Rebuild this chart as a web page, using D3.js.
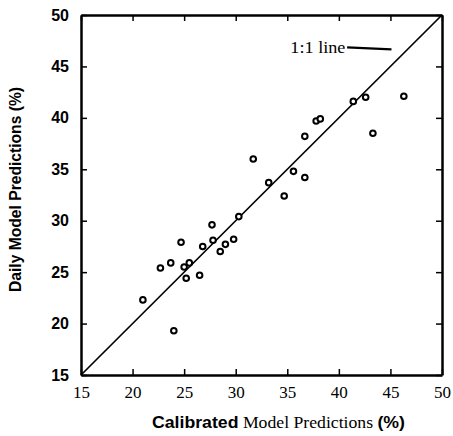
<!DOCTYPE html>
<html>
<head>
<meta charset="utf-8">
<script src="https://cdn.jsdelivr.net/npm/d3@7"></script>
<style>
  body { margin: 0; background: #fff; }
  .axis path, .axis line { stroke: #000; }
  .xaxis text { font-family: "Liberation Serif", serif; font-size: 17px; }
  .yaxis text { font-family: "Liberation Sans", sans-serif; font-weight: bold; font-size: 16px; }
</style>
</head>
<body>
<div id="chart"></div>
<script>
var width = 453, height = 436;
var margin = {top: 15, left: 81, right: 11, bottom: 61};

var calibrated = [21.0, 22.7, 23.7, 24.0, 24.7, 25.0, 25.5, 25.2, 26.5, 26.8, 27.7, 27.8, 28.5, 29.0,
  29.8, 30.3, 31.7, 33.2, 34.7, 35.6, 36.7, 36.7, 37.8, 38.2, 41.4, 42.6, 43.3, 46.3];
var daily = [22.3, 25.4, 25.9, 19.3, 27.9, 25.5, 25.9, 24.4, 24.7, 27.5, 29.6, 28.1, 27.0, 27.7,
  28.2, 30.4, 36.0, 33.7, 32.4, 34.8, 34.2, 38.2, 39.7, 39.9, 41.6, 42.0, 38.5, 42.1];
var ticks = [15, 20, 25, 30, 35, 40, 45, 50];

var svg = d3.select("#chart")
  .append("svg")
  .attr("width", width)
  .attr("height", height);

var xScale = d3.scaleLinear()
  .domain([15, 50])
  .range([margin.left, width - margin.right]);

var yScale = d3.scaleLinear()
  .domain([15, 50])
  .range([height - margin.bottom, margin.top]);

// inward ticks on all four sides
var xAxis = svg.append("g")
  .attr("class", "axis xaxis")
  .attr("transform", `translate(0,${height - margin.bottom})`)
  .call(d3.axisBottom(xScale).tickValues(ticks).tickSizeInner(-6).tickSizeOuter(0).tickPadding(11));

svg.append("g")
  .attr("class", "axis")
  .attr("transform", `translate(0,${margin.top})`)
  .call(d3.axisTop(xScale).tickValues(ticks).tickSizeInner(-6).tickSizeOuter(0).tickFormat(""));

var yAxis = svg.append("g")
  .attr("class", "axis yaxis")
  .attr("transform", `translate(${margin.left},0)`)
  .call(d3.axisLeft(yScale).tickValues(ticks).tickSizeInner(-6).tickSizeOuter(0).tickPadding(12));

svg.append("g")
  .attr("class", "axis")
  .attr("transform", `translate(${width - margin.right},0)`)
  .call(d3.axisRight(yScale).tickValues(ticks).tickSizeInner(-6).tickSizeOuter(0).tickFormat(""));

svg.selectAll(".axis path").attr("stroke-width", 2.5);
svg.selectAll(".axis line").attr("stroke-width", 1.5);

// 1:1 line
svg.append("line")
  .attr("x1", xScale(15)).attr("y1", yScale(15))
  .attr("x2", xScale(50)).attr("y2", yScale(50))
  .attr("stroke", "#000")
  .attr("stroke-width", 1.7);

svg.append("text")
  .attr("x", xScale(35.3))
  .attr("y", yScale(46.35))
  .attr("font-family", "Liberation Serif, serif")
  .attr("font-size", 17)
  .attr("textLength", 55)
  .attr("lengthAdjust", "spacingAndGlyphs")
  .text("1:1 line");

svg.append("line")
  .attr("x1", xScale(40.8)).attr("y1", yScale(46.85))
  .attr("x2", xScale(45.1)).attr("y2", yScale(46.65))
  .attr("stroke", "#000")
  .attr("stroke-width", 2.2);

var points = calibrated.map(function(d, i) { return {x: d, y: daily[i]}; });

svg.selectAll(".pt")
  .data(points)
  .enter()
  .append("circle")
    .attr("class", "pt")
    .attr("cx", function(d) { return xScale(d.x); })
    .attr("cy", function(d) { return yScale(d.y); })
    .attr("r", 2.8)
    .attr("fill", "#fff")
    .attr("stroke", "#000")
    .attr("stroke-width", 2);

var xLabel = svg.append("text")
  .attr("x", 152)
  .attr("y", 428)
  .attr("font-size", 17)
  .attr("textLength", 253)
  .attr("lengthAdjust", "spacingAndGlyphs");
xLabel.append("tspan")
  .attr("font-family", "Liberation Sans, sans-serif")
  .attr("font-weight", "bold")
  .text("Calibrated");
xLabel.append("tspan")
  .attr("font-family", "Liberation Serif, serif")
  .text(" Model Predictions ");
xLabel.append("tspan")
  .attr("font-family", "Liberation Sans, sans-serif")
  .attr("font-weight", "bold")
  .text("(%)");

var yLabel = svg.append("text")
  .attr("transform", "translate(21,292) rotate(-90)")
  .attr("font-family", "Liberation Sans, sans-serif")
  .attr("font-weight", "bold")
  .attr("font-size", 16)
  .attr("textLength", 205)
  .attr("lengthAdjust", "spacingAndGlyphs")
  .text("Daily Model Predictions (%)");
</script>
</body>
</html>
